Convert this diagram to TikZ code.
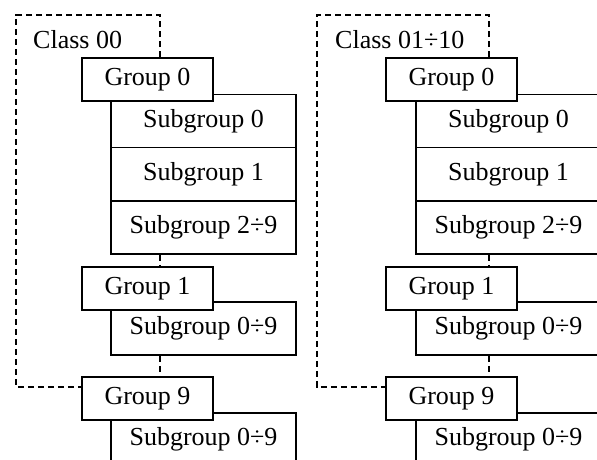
\documentclass[tikz,border=0pt]{standalone}
\usepackage{fontspec}
\setmainfont{Liberation Serif}
\begin{document}
\begin{tikzpicture}[x=1pt,y=-1pt,
  box/.style={draw, line width=1.7pt, fill=white, inner sep=0pt, font=\fontsize{26}{30}\selectfont},
  grp/.style={box, minimum width=131pt, minimum height=43pt},
  sub/.style={box, minimum width=185pt, minimum height=53pt},
  lbl/.style={inner sep=0pt, anchor=west, font=\fontsize{26}{30}\selectfont},
  dsh/.style={line width=2.3pt, dash pattern=on 6.5pt off 3.5pt}]
\useasboundingbox (0,0) rectangle (597,460);
\clip (0,0) rectangle (597,460);
% ---------------- left panel ----------------
\coordinate (Ltl) at (16,15);
\coordinate (Ltr) at (160,15);
\coordinate (Lh) at (16,387);
\node[sub] (Ls0) at (203.5,121) {Subgroup 0};
\node[sub] (Ls1) at (203.5,174) {Subgroup 1};
\node[sub] (Ls2) at (203.5,227.5) {Subgroup 2÷9};
\node[sub] (Ls1b) at (203.5,328.5) {Subgroup 0÷9};
\node[sub] (Ls9) at (203.5,439.5) {Subgroup 0÷9};
\node[grp] (Lg0) at (147.5,79.5) {Group 0};
\node[grp] (Lg1) at (147.5,288.5) {Group 1};
\node[grp] (Lg9) at (147.5,398.5) {Group 9};
\node[lbl] (Lc) at (33,40) {Class 00};
\draw[dsh] (Lg0.north -| Ltr) -- (Ltr) -- (Ltl) -- (Lh) -- (Lh -| Lg9.west);
\draw[dsh] (Ls2.south -| Ltr) -- (Lg1.north -| Ltr);
\draw[dsh] (Ls1b.south -| Ltr) -- (Lg9.north -| Ltr);
% ---------------- right panel ----------------
\coordinate (Rtl) at (317,15);
\coordinate (Rtr) at (489,15);
\coordinate (Rh) at (317,387);
\node[sub] (Rs0) at (508.5,121) {Subgroup 0};
\node[sub] (Rs1) at (508.5,174) {Subgroup 1};
\node[sub] (Rs2) at (508.5,227.5) {Subgroup 2÷9};
\node[sub] (Rs1b) at (508.5,328.5) {Subgroup 0÷9};
\node[sub] (Rs9) at (508.5,439.5) {Subgroup 0÷9};
\node[grp] (Rg0) at (451.5,79.5) {Group 0};
\node[grp] (Rg1) at (451.5,288.5) {Group 1};
\node[grp] (Rg9) at (451.5,398.5) {Group 9};
\node[lbl] (Rc) at (335,40) {Class 01÷10};
\draw[dsh] (Rg0.north -| Rtr) -- (Rtr) -- (Rtl) -- (Rh) -- (Rh -| Rg9.west);
\draw[dsh] (Rs2.south -| Rtr) -- (Rg1.north -| Rtr);
\draw[dsh] (Rs1b.south -| Rtr) -- (Rg9.north -| Rtr);
\end{tikzpicture}
\end{document}
